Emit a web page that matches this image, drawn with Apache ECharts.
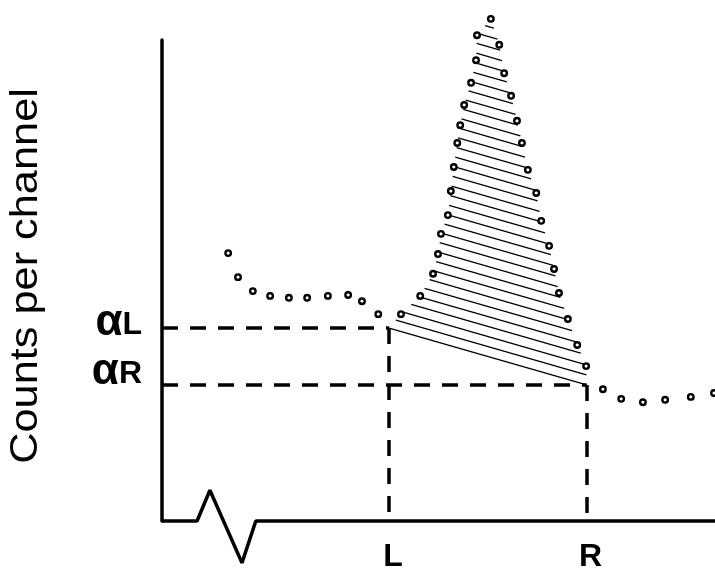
<!DOCTYPE html>
<html>
<head>
<meta charset="utf-8">
<script src="https://cdn.jsdelivr.net/npm/echarts@6/dist/echarts.min.js"></script>
<style>
  html, body { margin: 0; padding: 0; background: #fff; }
  #chart { width: 715px; height: 576px; }
</style>
</head>
<body>
<div id="chart"></div>
<script>
// Spectrum: channel number and counts recorded in that channel
const channels = [13.4, 15.4, 18.4, 21.9, 25.7, 29.4, 33.6, 37.7, 40.5, 43.8,
  48.4, 52.3, 54.9, 55.9, 56.5, 57.9, 58.5, 59.1, 59.8, 60.4, 61.2, 62.6, 63.6, 63.8,
  66.6, 68.3, 69.3, 70.7, 71.9, 72.9, 74.1, 75.8, 76.8, 78.4, 79.4, 80.4, 82.2, 84.1, 85.9,
  89.3, 93.0, 97.4, 101.9, 107.1, 111.8];
const counts = [557, 507, 478, 468, 464, 464, 468, 470, 457, 430,
  430, 468, 514, 555, 597, 636, 686, 736, 786, 823, 865, 911, 958, 1010,
  1044, 990, 931, 884, 832, 786, 730, 682, 624, 572, 524, 474, 420, 366, 322,
  274, 254, 247, 252, 258, 266];

// Peak window: left and right channel limits, and background level at each limit
const windowChannels = [46, 86];
const windowLabels = ['L', 'R'];
const backgroundCounts = [401, 283];
const backgroundLabels = ['L', 'R'];   // subscripts of the alpha symbol

const yTitle = 'Counts per channel';

const chart = echarts.init(document.getElementById('chart'));

// Hatch the net peak area: lines parallel to the linear background under the peak
function renderHatch(params, api) {
  const poly = [api.coord([windowChannels[0], backgroundCounts[0]])];
  channels.forEach(function (c, i) {
    if (c > windowChannels[0] && c < windowChannels[1]) poly.push(api.coord([c, counts[i]]));
  });
  poly.push(api.coord([windowChannels[1], backgroundCounts[1]]));
  const p0 = poly[0], pn = poly[poly.length - 1];
  const slope = (pn[1] - p0[1]) / (pn[0] - p0[0]);
  const off = poly.map(function (p) { return p[1] - slope * (p[0] - p0[0]); });
  const top = Math.min.apply(null, off);
  const step = 10;
  const children = [];
  for (let c = p0[1] - 0.01; c > top; c -= step) {
    const xs = [];
    for (let i = 0; i < poly.length; i++) {
      const j = (i + 1) % poly.length;
      const a = off[i], b = off[j];
      if ((a <= c && b > c) || (b <= c && a > c)) {
        const t = (c - a) / (b - a);
        xs.push(poly[i][0] + t * (poly[j][0] - poly[i][0]));
      }
    }
    xs.sort(function (a, b) { return a - b; });
    for (let k = 0; k + 1 < xs.length; k += 2) {
      children.push({
        type: 'line',
        shape: {
          x1: xs[k], y1: c + slope * (xs[k] - p0[0]),
          x2: xs[k + 1], y2: c + slope * (xs[k + 1] - p0[0])
        },
        style: { stroke: '#000', lineWidth: 1.3 }
      });
    }
  }
  return { type: 'group', children: children };
}

const dash = { color: '#000', width: 3.5, type: [16, 12] };

// alpha symbol with its subscript letter on a shared baseline, raised a little above the guide line
const alphaRich = {};
[10.4, 26.4].forEach(function (pb, i) {
  alphaRich['a' + i] = { fontFamily: 'Liberation Sans', fontWeight: 'bold', fontSize: 44, color: '#000', padding: [0, 0, pb, 0] };
  alphaRich['b' + i] = { fontFamily: 'Liberation Sans', fontWeight: 'bold', fontSize: 32, color: '#000', padding: [5, 0, pb, 0] };
});

const option = {
  animation: false,
  backgroundColor: '#fff',
  grid: { left: 162, right: 0, top: 40, bottom: 55, containLabel: false, outerBoundsMode: 'none' },
  xAxis: {
    type: 'value', min: 0, max: 112,
    axisLine: { show: false },
    axisTick: { show: false },
    splitLine: { show: false },
    axisLabel: {
      customValues: windowChannels,
      formatter: function (v) { return windowLabels[windowChannels.indexOf(v)]; },
      fontFamily: 'Liberation Sans', fontWeight: 'bold', fontSize: 32, color: '#000', margin: 20,
      padding: [0, 0, 0, 8]
    }
  },
  yAxis: {
    type: 'value', min: 0, max: 1000,
    axisLine: { show: true, lineStyle: { color: '#000', width: 3.5 } },
    axisTick: { show: false },
    splitLine: { show: false },
    axisLabel: {
      customValues: backgroundCounts,
      formatter: function (v) {
        const i = backgroundCounts.indexOf(v);
        return '{a' + i + '|α}{b' + i + '|' + backgroundLabels[i] + '}';
      },
      margin: 20,
      rich: alphaRich
    }
  },
  graphic: [{
    type: 'text', x: 27, y: 276, rotation: Math.PI / 2, scaleX: 1.14,
    style: {
      text: yTitle, font: '38px "Liberation Sans"', fill: '#000',
      align: 'center', verticalAlign: 'middle'
    }
  }],
  series: [
    {
      // horizontal axis with a break near the origin, plus window/background guides
      type: 'line', silent: true, clip: false, symbol: 'none',
      lineStyle: { color: '#000', width: 3.5 },
      data: [[0, 0], [7.1, 0], [9.7, 64], [16.2, -87], [19.0, 0], [112, 0]],
      markLine: {
        silent: true, symbol: 'none', label: { show: false }, lineStyle: dash,
        data: [
          [{ coord: [0, backgroundCounts[0]] }, { coord: [windowChannels[0], backgroundCounts[0]] }],
          [{ coord: [windowChannels[0], backgroundCounts[0]] }, { coord: [windowChannels[0], 0] }],
          [{ coord: [0, backgroundCounts[1]] }, { coord: [windowChannels[1], backgroundCounts[1]] }],
          [{ coord: [windowChannels[1], backgroundCounts[1]] }, { coord: [windowChannels[1], 0] }]
        ]
      }
    },
    {
      type: 'custom', silent: true, clip: false,
      renderItem: renderHatch,
      data: [[0, 0]],
      z: 3
    },
    {
      type: 'scatter', silent: true, clip: false,
      symbol: 'circle', symbolSize: 5.5,
      itemStyle: { color: '#fff', borderColor: '#000', borderWidth: 2.4, opacity: 1 },
      data: channels.map(function (c, i) { return [c, counts[i]]; }),
      z: 5
    }
  ]
};

chart.setOption(option);
</script>
</body>
</html>
